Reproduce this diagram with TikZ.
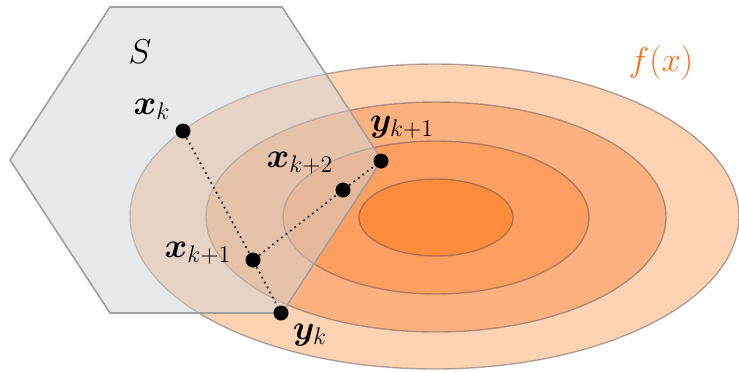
\documentclass[tikz,border=0pt]{standalone}
\usepackage{amsmath,bm}
\begin{document}
\begin{tikzpicture}[x=0.5pt,y=-0.5pt,
  ring/.style={draw=black!70, draw opacity=0.45, line width=0.7pt},
  setS/.style={fill={rgb,255:red,209;green,211;blue,215}, fill opacity=0.5, draw={rgb,255:red,160;green,160;blue,160}, line width=0.8pt},
  pt/.style={circle, fill=black, inner sep=0pt, minimum size=7.5pt},
  path/.style={dotted, line width=0.8pt},
  lab/.style={inner sep=0pt, font=\fontsize{18}{21}\selectfont}]
\definecolor{c1}{RGB}{253,211,180}
\definecolor{c2}{RGB}{253,177,128}
\definecolor{c3}{RGB}{254,158,96}
\definecolor{c4}{RGB}{254,140,60}
\definecolor{forange}{RGB}{250,110,20}
\useasboundingbox (0,0) rectangle (739,372);
% level sets of f
\draw[ring, fill=c1] (434.5,216.5) ellipse [x radius=304.5, y radius=152.5];
\draw[ring, fill=c2] (436,217) ellipse [x radius=230, y radius=115];
\draw[ring, fill=c3] (436,217.5) ellipse [x radius=153, y radius=76.5];
\draw[ring, fill=c4] (436,217.5) ellipse [x radius=77, y radius=38.5];
% set S
\draw[setS] (10,160) -- (110,7) -- (282,7) -- (382,160) -- (282,313) -- (110,313) -- cycle;
% points
\node[pt] (xk) at (183,131) {};
\node[pt] (xk1) at (253,260) {};
\node[pt] (xk2) at (343,190) {};
\node[pt] (yk) at (281,313) {};
\node[pt] (yk1) at (381,161) {};
\draw[path] (xk) -- (xk1) -- (yk);
\draw[path] (xk1) -- (xk2) -- (yk1);
% labels
\node[lab] (S) at (140,52) {$S$};
\node[lab, text=forange] (f) at (661,63) {$f(x)$};
\node[lab] (lxk) at (152,109) {$\bm{x}_{k}$};
\node[lab] (lxk2) at (300,163) {$\bm{x}_{k+2}$};
\node[lab] (lxk1) at (198,253) {$\bm{x}_{k+1}$};
\node[lab] (lyk1) at (402,127) {$\bm{y}_{k+1}$};
\node[lab] (lyk) at (310,335) {$\bm{y}_{k}$};
\end{tikzpicture}
\end{document}
